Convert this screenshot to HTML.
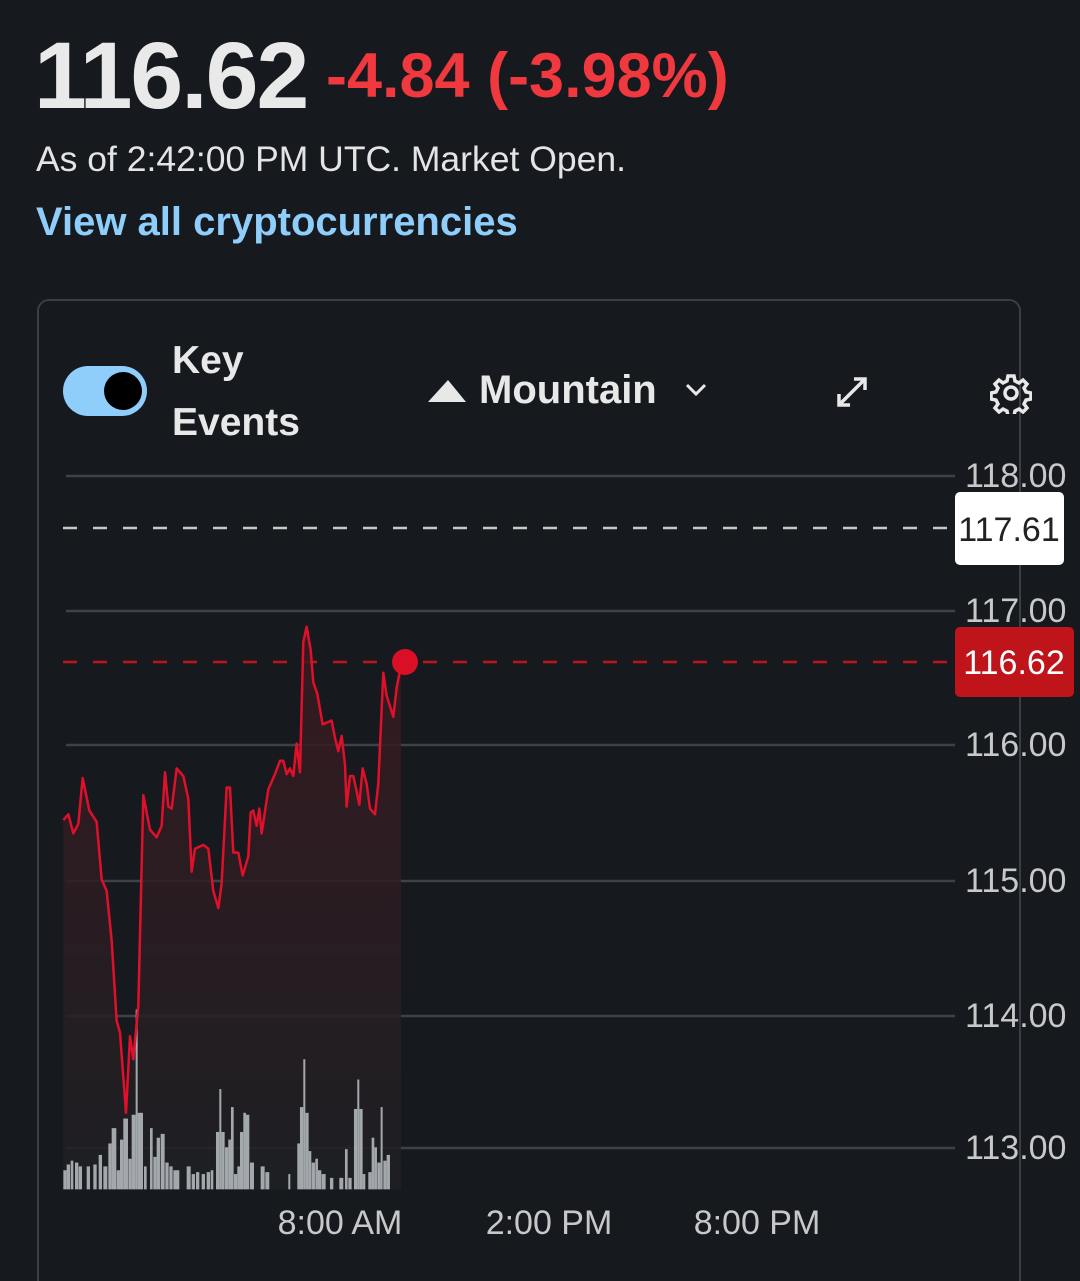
<!DOCTYPE html>
<html><head><meta charset="utf-8"><style>
html,body{margin:0;width:1080px;height:1281px;overflow:hidden}
body{background:#16191e;font-family:"Liberation Sans",sans-serif;position:relative;color:#e8e8e8}
.a{position:absolute;white-space:nowrap}
</style></head><body>
<div class="a" style="left:34px;top:22px;font-size:95px;font-weight:bold;letter-spacing:-2px;color:#e9e9e9">116.62</div>
<div class="a" style="left:326px;top:40px;font-size:63px;font-weight:bold;color:#f0383f">-4.84 (-3.98%)</div>
<div class="a" style="left:36px;top:139px;font-size:35.5px;color:#e4e4e4">As of 2:42:00 PM UTC. Market Open.</div>
<div class="a" style="left:36px;top:200px;font-size:40px;font-weight:bold;color:#8fcdfb">View all cryptocurrencies</div>
<div class="a" style="left:37px;top:299px;width:980px;height:1000px;border:2px solid #3a3f45;border-radius:12px"></div>
<div class="a" style="left:63px;top:366px;width:84px;height:50px;border-radius:25px;background:#8fcdfb"></div>
<div class="a" style="left:104px;top:372px;width:38px;height:38px;border-radius:50%;background:#000"></div>
<div class="a" style="left:172px;top:330px;font-size:39px;font-weight:bold;line-height:62px;color:#e8e8e8">Key<br>Events</div>
<svg class="a" style="left:428px;top:378px" width="38" height="24"><polygon points="0,24 20,2 38,24" fill="#e8e8e8"/></svg>
<div class="a" style="left:479px;top:368px;font-size:40px;font-weight:bold;color:#e8e8e8">Mountain</div>
<svg class="a" style="left:684px;top:382px" width="24" height="16"><polyline points="3,3 12,12 21,3" fill="none" stroke="#e8e8e8" stroke-width="3"/></svg>
<svg class="a" style="left:834px;top:374px" width="36" height="36"><g stroke="#e8e8e8" stroke-width="3.5" fill="none"><line x1="5" y1="31" x2="31" y2="5"/><polyline points="5,20 5,31 16,31"/><polyline points="20,5 31,5 31,16"/></g></svg>
<svg class="a" style="left:990px;top:372px" width="42" height="42" viewBox="0 0 42 42"><g fill="none" stroke="#e8e8e8" stroke-width="3.5"><circle cx="21" cy="21" r="6"/><path d="M18 4h6l1 5 4 2 4-3 4 4-3 4 2 4 5 1v6l-5 1-2 4 3 4-4 4-4-3-4 2-1 5h-6l-1-5-4-2-4 3-4-4 3-4-2-4-5-1v-6l5-1 2-4-3-4 4-4 4 3 4-2z"/></g></svg>
<svg class="a" style="left:0;top:0" width="1080" height="1281">
<g stroke="#3d4247" stroke-width="2.5">
<line x1="66" y1="476" x2="955" y2="476"/><line x1="66" y1="611" x2="955" y2="611"/><line x1="66" y1="745" x2="955" y2="745"/><line x1="66" y1="881" x2="955" y2="881"/><line x1="66" y1="1016" x2="955" y2="1016"/><line x1="66" y1="1148" x2="955" y2="1148"/>
</g>
<line x1="63" y1="528" x2="955" y2="528" stroke="#c8c8c8" stroke-width="2.5" stroke-dasharray="14,16"/>
<line x1="63" y1="662" x2="955" y2="662" stroke="#c0141b" stroke-width="2.5" stroke-dasharray="14,16"/>
<defs><linearGradient id="g" x1="0" y1="0" x2="0" y2="1"><stop offset="0" stop-color="#3a1a20"/><stop offset="1" stop-color="#1e2024"/></linearGradient></defs>
<g transform="translate(40,600) scale(0.3333,0.3827)">
<polygon fill="url(#g)" opacity="0.85" points="70,575 85,560 100,610 115,585 128,465 148,550 170,580 185,730 200,760 215,890 230,1100 240,1130 258,1340 270,1140 280,1200 295,1060 310,510 330,600 350,620 365,590 375,450 385,540 395,545 410,440 430,460 445,520 455,710 465,650 490,640 505,650 520,760 535,805 545,740 560,490 570,490 580,660 595,660 608,720 625,670 632,555 640,550 650,590 658,545 665,610 685,495 705,455 720,420 730,420 740,455 750,440 760,460 770,375 780,450 790,110 800,70 812,130 820,215 832,245 848,325 875,315 885,360 895,395 905,355 915,430 920,540 930,460 940,460 950,500 958,535 968,440 980,480 990,545 1005,560 1015,480 1030,190 1040,250 1060,305 1070,230 1080,185 1083,185 1083,1540 70,1540"/>
<g fill="#a3a8ad">
<rect x="70" y="1490" width="10" height="50"/><rect x="80" y="1475" width="10" height="65"/><rect x="92" y="1465" width="8" height="75"/><rect x="105" y="1470" width="10" height="70"/><rect x="116" y="1480" width="10" height="60"/><rect x="140" y="1480" width="10" height="60"/><rect x="160" y="1475" width="10" height="65"/><rect x="176" y="1450" width="10" height="90"/><rect x="190" y="1480" width="12" height="60"/><rect x="205" y="1420" width="10" height="120"/><rect x="215" y="1380" width="14" height="160"/><rect x="230" y="1490" width="10" height="50"/><rect x="240" y="1410" width="10" height="130"/><rect x="250" y="1355" width="14" height="185"/><rect x="265" y="1460" width="10" height="80"/><rect x="275" y="1345" width="12" height="195"/><rect x="287" y="1070" width="6" height="470"/><rect x="293" y="1340" width="16" height="200"/><rect x="312" y="1480" width="8" height="60"/><rect x="330" y="1380" width="8" height="160"/><rect x="340" y="1455" width="10" height="85"/><rect x="350" y="1405" width="10" height="135"/><rect x="362" y="1395" width="12" height="145"/><rect x="376" y="1470" width="10" height="70"/><rect x="388" y="1480" width="10" height="60"/><rect x="400" y="1490" width="18" height="50"/><rect x="440" y="1480" width="12" height="60"/><rect x="455" y="1500" width="10" height="40"/><rect x="468" y="1495" width="10" height="45"/><rect x="485" y="1500" width="10" height="40"/><rect x="500" y="1495" width="10" height="45"/><rect x="512" y="1490" width="8" height="50"/><rect x="528" y="1390" width="10" height="150"/><rect x="538" y="1278" width="6" height="262"/><rect x="544" y="1390" width="10" height="150"/><rect x="555" y="1430" width="10" height="110"/><rect x="565" y="1410" width="8" height="130"/><rect x="573" y="1325" width="8" height="215"/><rect x="582" y="1500" width="10" height="40"/><rect x="592" y="1480" width="8" height="60"/><rect x="600" y="1390" width="10" height="150"/><rect x="610" y="1340" width="8" height="200"/><rect x="618" y="1345" width="10" height="195"/><rect x="630" y="1470" width="12" height="70"/><rect x="662" y="1480" width="12" height="60"/><rect x="676" y="1495" width="12" height="45"/><rect x="745" y="1500" width="6" height="40"/><rect x="772" y="1420" width="8" height="120"/><rect x="780" y="1325" width="10" height="215"/><rect x="790" y="1200" width="6" height="340"/><rect x="796" y="1340" width="10" height="200"/><rect x="806" y="1440" width="8" height="100"/><rect x="815" y="1470" width="10" height="70"/><rect x="826" y="1460" width="8" height="80"/><rect x="834" y="1490" width="10" height="50"/><rect x="845" y="1500" width="12" height="40"/><rect x="870" y="1510" width="10" height="30"/><rect x="898" y="1510" width="12" height="30"/><rect x="915" y="1435" width="8" height="105"/><rect x="925" y="1510" width="10" height="30"/><rect x="942" y="1330" width="10" height="210"/><rect x="952" y="1253" width="6" height="287"/><rect x="958" y="1330" width="10" height="210"/><rect x="968" y="1500" width="8" height="40"/><rect x="985" y="1495" width="10" height="45"/><rect x="995" y="1405" width="8" height="135"/><rect x="1003" y="1430" width="8" height="110"/><rect x="1012" y="1470" width="10" height="70"/><rect x="1022" y="1325" width="6" height="215"/><rect x="1030" y="1465" width="10" height="75"/><rect x="1040" y="1450" width="10" height="90"/>
</g>
<polyline fill="none" stroke="#e0102a" stroke-width="2.5" vector-effect="non-scaling-stroke" stroke-linejoin="round" points="70,575 85,560 100,610 115,585 128,465 148,550 170,580 185,730 200,760 215,890 230,1100 240,1130 258,1340 270,1140 280,1200 295,1060 310,510 330,600 350,620 365,590 375,450 385,540 395,545 410,440 430,460 445,520 455,710 465,650 490,640 505,650 520,760 535,805 545,740 560,490 570,490 580,660 595,660 608,720 625,670 632,555 640,550 650,590 658,545 665,610 685,495 705,455 720,420 730,420 740,455 750,440 760,460 770,375 780,450 790,110 800,70 812,130 820,215 832,245 848,325 875,315 885,360 895,395 905,355 915,430 920,540 930,460 940,460 950,500 958,535 968,440 980,480 990,545 1005,560 1015,480 1030,190 1040,250 1060,305 1070,230 1080,185 1095,163"/>
</g>
<circle cx="405" cy="662" r="13" fill="#d90f25"/>
<g font-family="Liberation Sans" font-size="34" fill="#c8c8c8">
<text x="965" y="487">118.00</text><text x="965" y="622">117.00</text><text x="965" y="756">116.00</text><text x="965" y="892">115.00</text><text x="965" y="1027">114.00</text><text x="965" y="1159">113.00</text>
<text x="340" y="1234" text-anchor="middle">8:00 AM</text><text x="549" y="1234" text-anchor="middle">2:00 PM</text><text x="757" y="1234" text-anchor="middle">8:00 PM</text>
</g>
<rect x="955" y="492" width="109" height="73" rx="5" fill="#ffffff"/>
<text x="1009" y="541" text-anchor="middle" font-family="Liberation Sans" font-size="34" fill="#222">117.61</text>
<rect x="955" y="627" width="119" height="70" rx="5" fill="#c0141b"/>
<text x="1014" y="674" text-anchor="middle" font-family="Liberation Sans" font-size="34" fill="#fff">116.62</text>
</svg>
</body></html>
